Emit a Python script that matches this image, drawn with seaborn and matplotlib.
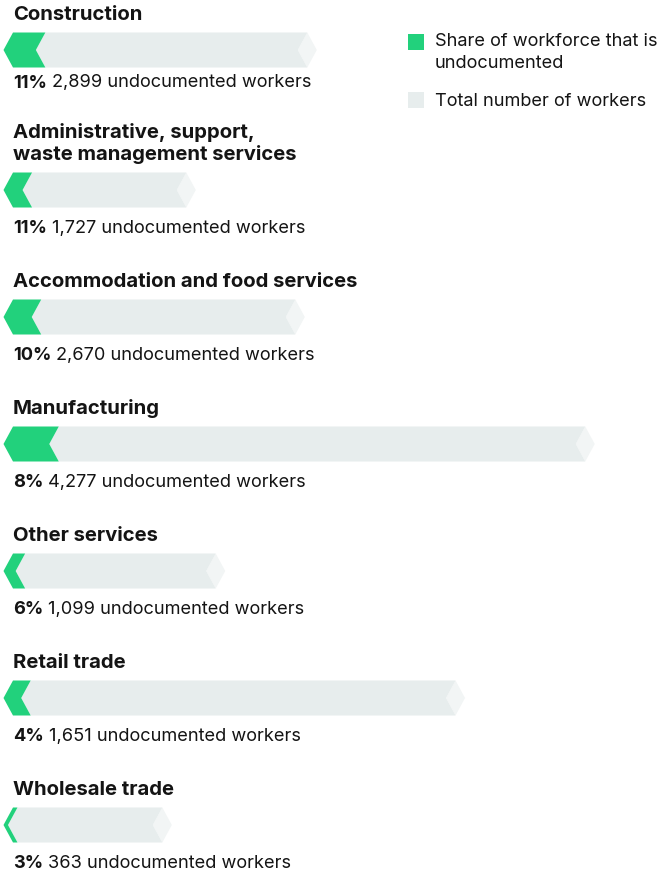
import matplotlib
matplotlib.use("Agg")
import matplotlib.pyplot as plt
import matplotlib.transforms as mtransforms
from matplotlib.patches import Polygon, Rectangle
import numpy as np
import pandas as pd
import seaborn as sns

# ---- data -------------------------------------------------------------
industries = [
    "Construction",
    "Administrative, support,\nwaste management services",
    "Accommodation and food services",
    "Manufacturing",
    "Other services",
    "Retail trade",
    "Wholesale trade",
]
share_pct = [11, 11, 10, 8, 6, 4, 3]
undocumented = [2899, 1727, 2670, 4277, 1099, 1651, 363]
total_workers = [27000, 15900, 25900, 52500, 18600, 40600, 13700]

legend_labels = ["Share of workforce that is\nundocumented", "Total number of workers"]

# ---- style ------------------------------------------------------------
GREEN = "#22d17c"
GRAY = "#e7eded"
TIP = "#f2f5f5"
INK = "#141414"

sns.set_theme(style="white")
plt.rcParams["font.family"] = ["Inter", "DejaVu Sans"]

W, H, DPI = 672, 874, 100
fig = plt.figure(figsize=(W / DPI, H / DPI), dpi=DPI)
ax = fig.add_axes([0, 0, 1, 1])

# pixel-based layout helpers
PX_PER_WORKER = 0.0109          # horizontal scale
X0_PX = 13                      # where zero workers sits
CHEVRON_PX = 9.5                # depth of each arrow point
BAR_H = 35                      # bar thickness in px
ROW_PITCH, LINE_GAP = 127, 22

n_lines = [s.count("\n") + 1 for s in industries]
bar_y = []
for i, nl in enumerate(n_lines):
    if i == 0:
        bar_y.append(50.0)
    else:
        bar_y.append(bar_y[-1] + ROW_PITCH + 13 * (nl - 1))

df = pd.DataFrame({
    "industry": industries,
    "share": share_pct,
    "undocumented": undocumented,
    "total": total_workers,
    "ypos": bar_y,
})
df["undoc_len"] = df["total"] * df["share"] / 100.0

min_gap = np.min(np.diff(sorted(bar_y)))
bw = BAR_H / min_gap

sns.barplot(data=df, x="total", y="ypos", orient="y", native_scale=True,
            color=GRAY, width=bw, errorbar=None, ax=ax, saturation=1)
sns.barplot(data=df, x="undoc_len", y="ypos", orient="y", native_scale=True,
            color=GREEN, width=bw, errorbar=None, ax=ax, saturation=1)

ax.set_xlim(-X0_PX / PX_PER_WORKER, (W - X0_PX) / PX_PER_WORKER)
ax.set_ylim(H, 0)
ax.set_axis_off()

# turn the plain bars into chevron-shaped segments
d = CHEVRON_PX / PX_PER_WORKER
rects = [p for p in ax.patches if isinstance(p, Rectangle)]
n = len(df)
gray_rects, green_rects = rects[:n], rects[n:]
for r in rects:
    r.set_visible(False)

for gr, tr in zip(green_rects, gray_rects):
    top, bot = tr.get_y(), tr.get_y() + tr.get_height()
    mid = (top + bot) / 2
    g = gr.get_x() + gr.get_width()
    t = tr.get_x() + tr.get_width()
    # light tip at the right end
    ax.add_patch(Polygon([(t, top), (t + d, mid), (t, bot), (t - d, mid)],
                         closed=True, facecolor=TIP, edgecolor="none", zorder=2))
    # grey body
    ax.add_patch(Polygon([(g, top), (t, top), (t - d, mid), (t, bot), (g, bot), (g - d, mid)],
                         closed=True, facecolor=GRAY, edgecolor="none", zorder=2))
    # green share
    ax.add_patch(Polygon([(0, top), (g, top), (g - d, mid), (g, bot), (0, bot), (-d, mid)],
                         closed=True, facecolor=GREEN, edgecolor="none", zorder=3))

# ---- text -------------------------------------------------------------
TITLE_FS = 14.6
LABEL_FS = 13.1
for i, row in enumerate(df.itertuples()):
    lines = row.industry.split("\n")
    for j, line in enumerate(lines):
        y = row.ypos - 35 - LINE_GAP * (len(lines) - 1 - j)
        ax.text(0, y, line, fontsize=TITLE_FS, fontweight="bold", color=INK,
                va="center", ha="left")
    ly = row.ypos + (33 if i == 0 else 38.5)
    pct = ax.text(0, ly, f"{row.share}%", fontsize=LABEL_FS, fontweight="bold",
                  color=INK, va="center", ha="left")
    ax.annotate(f"{row.undocumented:,} undocumented workers", xy=(1, 0.5),
                xycoords=pct, xytext=(3.5, 0), textcoords="offset points",
                fontsize=LABEL_FS, color=INK, va="center", ha="left")

# ---- legend -----------------------------------------------------------
pix = mtransforms.Affine2D().scale(1 / W, -1 / H).translate(0, 1) + fig.transFigure
fig.patches.append(Rectangle((408, 34), 16, 16, transform=pix, facecolor=GREEN,
                             edgecolor="none", figure=fig))
fig.patches.append(Rectangle((408, 92), 16, 16, transform=pix, facecolor=GRAY,
                             edgecolor="none", figure=fig))
for k, line in enumerate(legend_labels[0].split("\n")):
    fig.text(435, 42 + 21 * k, line, transform=pix, fontsize=LABEL_FS, color=INK,
             va="center", ha="left")
fig.text(435, 101, legend_labels[1], transform=pix, fontsize=LABEL_FS, color=INK,
         va="center", ha="left")

fig.savefig("out.png", dpi=DPI)
